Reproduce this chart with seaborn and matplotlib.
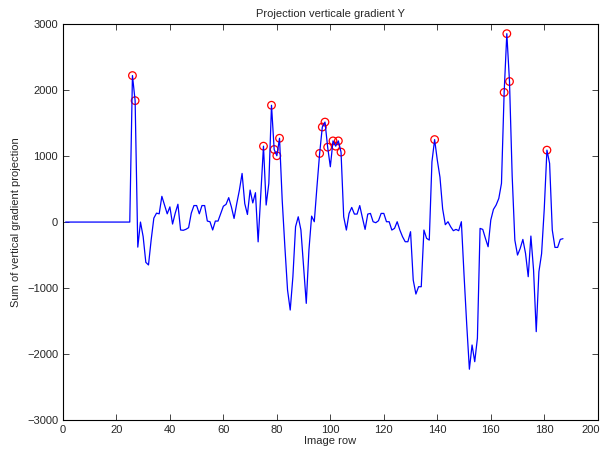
import numpy as np
import pandas as pd
import seaborn as sns
import matplotlib
matplotlib.use('Agg')
import matplotlib.pyplot as plt
from matplotlib.transforms import ScaledTranslation

# image rows 1..187, first 25 rows are zero
rows = list(range(1, 188))
flat_part = [0] * 25
values_26_to_187 = [
    2220, 1840, -380, 0, -220, -610, -650, -270, 60, 135,          # 26-35
    125, 390, 255, 125, 230, -30, 135, 270, -120, -125,            # 36-45
    -110, -85, 135, 250, 250, 125, 250, 250, 15, 5,                # 46-55
    -120, 15, 15, 130, 240, 268, 370, 230, 55, 280,                # 56-65
    485, 737, 280, 115, 485, 290, 445, -300, 420, 1150,            # 66-75
    258, 585, 1770, 1100, 1005, 1270, 333, -374, -1030, -1333,     # 76-85
    -828, -70, 80, -120, -677, -1232, -424, 90, 5, 535,            # 86-95
    1040, 1440, 1515, 1135, 838, 1230, 1150, 1230, 1060, 80,       # 96-105
    -121, 131, 222, 121, 121, 250, 65, -111, 121, 131,             # 106-115
    5, -10, 20, 131, 131, 5, 5, -121, -96, 5,                      # 116-125
    -121, -222, -298, -298, -146, -879, -1091, -980, -980, -121,   # 126-135
    -247, -273, 914, 1250, 939, 680, 200, -40, 5, -71,             # 136-145
    -131, -111, -131, 5, -800, -1550, -2230, -1863, -2116, -1760,  # 146-155
    -96, -111, -247, -374, 30, 192, 258, 358, 586, 1965,           # 156-165
    2855, 2130, 700, -273, -500, -400, -263, -475, -828, -212,     # 166-175
    -727, -1661, -752, -480, 200, 1090, 889, -121, -384, -384,     # 176-185
    -263, -252,                                                    # 186-187
]
projection = flat_part + values_26_to_187

# rows marked with red circles (local maxima found)
peak_rows = [26, 27, 75, 78, 79, 80, 81, 96, 97, 98, 99, 101, 102, 103, 104,
             139, 165, 166, 167, 181]

df = pd.DataFrame({'row': rows, 'proj': projection})
peaks = df[df['row'].isin(peak_rows)]

sns.set_style('ticks')
plt.rcParams['font.family'] = ['Liberation Sans', 'DejaVu Sans']

fig = plt.figure(figsize=(6.05, 4.53), dpi=100)
ax = fig.add_axes([0.104, 0.0728, 0.884, 0.874])

sns.lineplot(data=df, x='row', y='proj', color='blue', linewidth=0.9, ax=ax)
sns.scatterplot(data=peaks, x='row', y='proj', marker='o', s=30,
                facecolors='none', edgecolor='red', linewidth=0.9, ax=ax)

ax.set_xlim(0, 200)
ax.set_ylim(-3000, 3000)
ax.set_xticks(range(0, 201, 20))
ax.set_yticks(range(-3000, 3001, 1000))
ax.tick_params(direction='in', top=True, right=True, labelsize=8, length=4, width=0.6)
for sp in ax.spines.values():
    sp.set_linewidth(0.8)
    sp.set_color('black')

# nudge the last x tick label so it stays inside the figure
last = ax.get_xticklabels()[-1]
last.set_transform(last.get_transform() + ScaledTranslation(-5 / 72, 0, fig.dpi_scale_trans))

ax.set_title('Projection verticale gradient Y', fontsize=8, pad=5)
ax.set_xlabel('Image row', fontsize=8, labelpad=1)
ax.set_ylabel('Sum of vertical gradient projection', fontsize=8)

fig.savefig('out.png', dpi=100)
